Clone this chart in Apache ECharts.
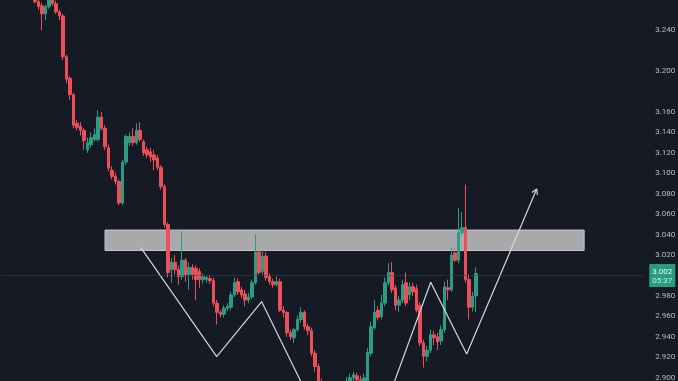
<!DOCTYPE html>
<html><head><meta charset="utf-8">
<script src="https://cdn.jsdelivr.net/npm/echarts@6/dist/echarts.min.js"></script>
<style>html,body{margin:0;padding:0;background:#161a25;}#c{width:678px;height:381px;}</style>
</head><body><div id="c"></div>
<script>
const slotCount = 183;
const leadingEmpty = 9;
const opens = [
3.277,3.268,3.264,3.256,3.263,3.271,3.266,3.258,3.254,3.214,
3.193,3.177,3.149,3.146,3.142,3.123,3.128,3.133,3.133,3.155,
3.144,3.125,3.103,3.097,3.092,3.071,3.111,3.130,3.136,3.130,
3.142,3.131,3.123,3.121,3.118,3.115,3.106,3.087,3.050,3.006,
3.013,3.006,2.999,3.015,3.001,3.008,3.007,3.004,2.996,2.996,
2.997,2.995,2.973,2.964,2.962,2.968,2.969,2.981,2.994,2.986,
2.982,2.976,2.979,2.993,3.023,3.004,3.019,2.999,2.994,2.991,
2.994,2.966,2.964,2.944,2.939,2.947,2.957,2.964,2.950,2.946,
2.924,2.911,2.896,2.882,2.869,2.874,2.864,2.878,2.886,2.890,
2.896,2.900,2.902,2.898,2.894,2.897,2.924,2.949,2.966,2.960,
2.973,2.993,3.003,2.988,2.971,2.976,2.993,2.981,2.989,2.987,
2.971,2.934,2.921,2.927,2.942,2.940,2.936,2.947,2.988,2.986,
3.022,3.015,3.042,3.047,2.996,2.969,2.980];
const closes = [
3.268,3.263,3.256,3.263,3.271,3.266,3.258,3.254,3.214,3.192,
3.177,3.147,3.145,3.142,3.132,3.130,3.135,3.138,3.155,3.144,
3.126,3.105,3.097,3.092,3.071,3.111,3.136,3.136,3.130,3.142,
3.133,3.120,3.118,3.116,3.113,3.106,3.087,3.050,3.003,3.013,
3.006,2.999,3.015,3.001,3.008,3.001,2.996,2.996,2.999,2.998,
2.995,2.973,2.964,2.962,2.968,2.970,2.981,2.993,2.984,2.981,
2.976,2.979,2.993,3.023,3.003,3.019,2.998,2.994,2.991,2.994,
2.966,2.964,2.944,2.940,2.947,2.957,2.964,2.950,2.946,2.924,
2.911,2.897,2.882,2.869,2.874,2.864,2.878,2.886,2.890,2.896,
2.900,2.903,2.898,2.896,2.900,2.925,2.950,2.964,2.959,2.973,
2.993,3.003,2.986,2.971,2.976,2.991,2.973,2.989,2.984,2.966,
2.934,2.921,2.927,2.942,2.939,2.935,2.947,2.989,2.986,3.020,
3.015,3.042,3.047,2.996,2.969,2.980,3.002];
const lows = [
3.266,3.260,3.240,3.250,3.261,3.264,3.256,3.250,3.211,3.188,
3.172,3.144,3.142,3.137,3.123,3.120,3.125,3.131,3.131,3.142,
3.123,3.102,3.094,3.089,3.069,3.069,3.108,3.127,3.127,3.128,
3.131,3.117,3.115,3.111,3.103,3.103,3.084,3.047,2.998,2.993,
3.001,2.991,2.996,2.994,2.986,2.996,2.976,2.988,2.992,2.993,
2.992,2.970,2.952,2.959,2.959,2.965,2.966,2.979,2.981,2.978,
2.970,2.973,2.977,2.991,3.001,3.001,2.995,2.991,2.988,2.989,
2.964,2.959,2.940,2.937,2.934,2.945,2.954,2.947,2.942,2.921,
2.906,2.888,2.878,2.864,2.859,2.854,2.859,2.874,2.882,2.886,
2.892,2.896,2.893,2.890,2.890,2.895,2.921,2.947,2.956,2.957,
2.970,2.990,2.983,2.966,2.964,2.973,2.970,2.976,2.980,2.964,
2.931,2.910,2.916,2.924,2.932,2.927,2.932,2.944,2.976,2.984,
3.013,3.012,3.039,2.993,2.957,2.965,2.964];
const highs = [
3.281,3.272,3.267,3.265,3.274,3.274,3.269,3.260,3.256,3.216,
3.195,3.179,3.152,3.150,3.144,3.135,3.140,3.144,3.162,3.160,
3.147,3.128,3.107,3.101,3.094,3.113,3.138,3.140,3.144,3.149,
3.150,3.133,3.126,3.125,3.123,3.118,3.108,3.089,3.052,3.017,
3.020,3.010,3.043,3.017,3.013,3.011,3.010,3.007,3.002,3.000,
3.000,2.998,2.976,2.966,2.971,2.973,2.984,2.998,2.997,2.989,
2.986,2.983,2.996,3.040,3.025,3.025,3.023,3.002,2.997,2.999,
2.997,2.970,2.965,2.947,2.949,2.961,2.969,2.966,2.953,2.949,
2.927,2.914,2.899,2.886,2.878,2.880,2.883,2.890,2.895,2.901,
2.904,2.906,2.905,2.902,2.904,2.929,2.955,2.976,2.970,2.981,
2.998,3.012,3.013,2.991,2.980,2.996,3.003,2.993,2.993,2.991,
2.974,2.937,2.931,2.947,2.946,2.944,2.951,2.994,2.996,3.027,
3.027,3.066,3.062,3.089,3.001,2.984,3.008];
const priceTicks = ['3.240','3.200','3.160','3.140','3.120','3.100','3.080','3.060','3.040','3.020','2.980','2.960','2.940','2.920','2.900'];
const lastPrice = 3.002;
const countdown = '05:37';
const zoneLow = 3.0245, zoneHigh = 3.0445, zoneStart = 29.5, zoneEnd = 166.4;
const patternX = [39.7, 61.41, 74.27, 100.79, 122.56, 132.84, 152.84];
const patternY = [3.0276, 2.9206, 2.9744, 2.7892, 2.9934, 2.9232, 3.0847];
const arrowX = [151.47, 152.84, 153.04];
const arrowY = [3.0812, 3.0847, 3.0788];

const categories = Array.from({length: slotCount}, (_, i) => String(i));
const candleData = categories.map((_, i) => {
  const k = i - leadingEmpty;
  if (k < 0 || k >= opens.length) return '-';
  return [opens[k], closes[k], lows[k], highs[k]];
});
const UP = '#2a9d84', DOWN = '#ec4f58';
const chart = echarts.init(document.getElementById('c'));
chart.setOption({
  backgroundColor: '#161a25',
  animation: false,
  grid: {left: 1.75, right: 35.75, top: -10.63, bottom: -17.17, outerBoundsMode: 'none', containLabel: false},
  xAxis: [
    {type: 'category', data: categories, show: false, boundaryGap: true},
    {type: 'value', min: 0, max: slotCount, show: false}
  ],
  yAxis: {
    type: 'value', position: 'right', min: 2.88, max: 3.28, interval: 0.02,
    splitLine: {show: false}, axisLine: {show: false}, axisTick: {show: false},
    axisLabel: {
      margin: 13, fontSize: 8, color: '#b8bcc6', fontFamily: 'Roboto',
      formatter: v => { const s = v.toFixed(3); return priceTicks.includes(s) ? s : ''; }
    }
  },
  series: [
    {
      type: 'line', xAxisIndex: 1, data: [], z: 1, silent: true,
      markArea: {
        silent: true,
        itemStyle: {color: '#a9a9ad', borderColor: '#c4c4c8', borderWidth: 1},
        data: [[{xAxis: zoneStart, yAxis: zoneHigh}, {xAxis: zoneEnd, yAxis: zoneLow}]]
      }
    },
    {
      type: 'candlestick', data: candleData, z: 2, barWidth: 2.6,
      itemStyle: {color: UP, color0: DOWN, borderColor: UP, borderColor0: DOWN, borderWidth: 1},
      markLine: {
        silent: true, symbol: 'none',
        lineStyle: {color: '#3d4a58', type: 'dotted', width: 1},
        data: [{yAxis: lastPrice}],
        label: {
          show: true, position: 'end', distance: 7,
          backgroundColor: '#279d80', padding: [3, 3, 2, 3],
          formatter: () => '{a|' + lastPrice.toFixed(3) + '}\n{b|' + countdown + '}',
          rich: {
            a: {fontSize: 8, lineHeight: 9, color: '#eef8f4', fontFamily: 'Roboto'},
            b: {fontSize: 8, lineHeight: 9, color: '#c9e8de', fontFamily: 'Roboto'}
          }
        }
      }
    },
    {
      type: 'line', xAxisIndex: 1, z: 3, silent: true, showSymbol: false, clip: true,
      data: patternX.map((x, i) => [x, patternY[i]]),
      lineStyle: {color: '#d6d6d8', width: 1.2}
    },
    {
      type: 'line', xAxisIndex: 1, z: 3, silent: true, showSymbol: false,
      data: arrowX.map((x, i) => [x, arrowY[i]]),
      lineStyle: {color: '#d6d6d8', width: 1.2}
    }
  ]
});
</script></body></html>
